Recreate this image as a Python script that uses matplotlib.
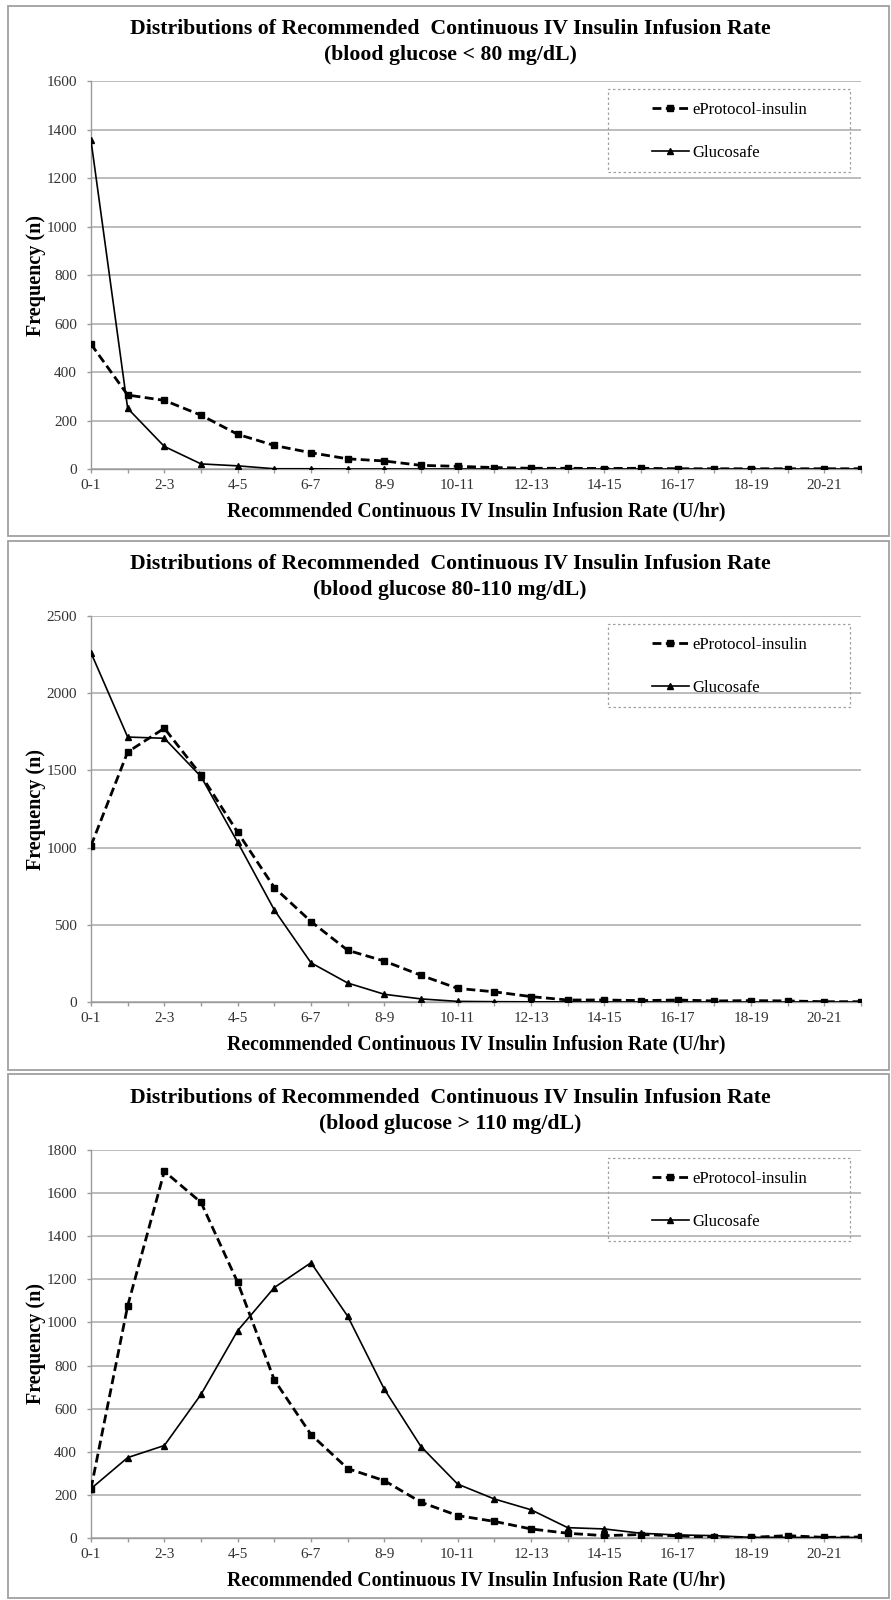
import matplotlib
matplotlib.use('Agg')
import matplotlib.pyplot as plt
from matplotlib.patches import Rectangle
import numpy as np

plt.rcParams['font.family'] = ['Liberation Serif', 'DejaVu Serif']

# rate categories (U/hr), only every other one gets a label
categories = ['%d-%d' % (i, i + 1) for i in range(22)]
tick_labels = [c if i % 2 == 0 else '' for i, c in enumerate(categories)]

subtitles = ['(blood glucose < 80 mg/dL)',
             '(blood glucose 80-110 mg/dL)',
             '(blood glucose > 110 mg/dL)']

eprotocol_low = [515, 305, 283, 222, 143, 97, 67, 42, 33, 15, 11, 6, 3, 3, 2, 3, 1, 1, 1, 1, 1, 1]
glucosafe_low = [1355, 250, 93, 21, 13, 1, 1, 0, 0, 0, 0, 0, 0, 0, 0, 0, 0, 0, 0, 0, 0, 0]

eprotocol_mid = [1012, 1619, 1773, 1470, 1099, 741, 521, 335, 265, 173, 88, 66, 35, 13, 13, 9, 13, 7, 9, 7, 2, 2]
glucosafe_mid = [2262, 1716, 1708, 1460, 1034, 596, 254, 123, 50, 20, 4, 2, 1, 1, 0, 0, 0, 0, 0, 0, 0, 0]

eprotocol_high = [229, 1077, 1701, 1557, 1186, 733, 480, 322, 266, 166, 104, 77, 42, 22, 11, 16, 10, 3, 3, 11, 3, 5]
glucosafe_high = [229, 373, 429, 666, 962, 1162, 1277, 1029, 690, 424, 250, 181, 131, 48, 42, 22, 14, 11, 3, 3, 2, 3]

y_limits = [1600, 2500, 1800]
y_steps = [200, 500, 200]

W, H = 891, 1600

def fx(px):
    return px / W

def fy(py):
    return 1 - py / H

fig = plt.figure(figsize=(W / 100, H / 100), dpi=100)

# panel layout in pixels: (border top, border bottom, plot top, plot bottom, title line 1)
panels = [(6, 536, 81, 469, 29),
          (541, 1070, 616, 1002, 564),
          (1074, 1598, 1150, 1538, 1098)]
plot_left, plot_right = 91, 861

series = [(eprotocol_low, glucosafe_low),
          (eprotocol_mid, glucosafe_mid),
          (eprotocol_high, glucosafe_high)]

x = np.arange(len(categories))

for k, (btop, bbot, ptop, pbot, ttl) in enumerate(panels):
    fig.patches.append(Rectangle((fx(8), fy(bbot)), fx(881), (bbot - btop) / H,
                                 transform=fig.transFigure, fill=False,
                                 ec='#a0a0a0', lw=1.3))

    ax = fig.add_axes([fx(plot_left), fy(pbot), fx(plot_right - plot_left), (pbot - ptop) / H])
    ep, gs = series[k]
    ax.plot(x, ep, color='black', lw=2.0, dashes=(3.2, 1.6), marker='s', ms=4.5,
            label='eProtocol-insulin', zorder=3)
    ax.plot(x, gs, color='black', lw=1.2, marker='^', ms=4.8,
            label='Glucosafe', zorder=4)

    ax.set_xlim(0, len(categories) - 1)
    ax.set_ylim(0, y_limits[k])
    ax.set_yticks(np.arange(0, y_limits[k] + 1, y_steps[k]))
    ax.set_xticks(x)
    ax.set_xticklabels(tick_labels)
    ax.yaxis.grid(True, color='#b0b0b0', lw=1.2)
    ax.set_axisbelow(True)
    for s in ['top', 'right']:
        ax.spines[s].set_visible(False)
    for s in ['left', 'bottom']:
        ax.spines[s].set_color('#9a9a9a')
        ax.spines[s].set_linewidth(1.0)
    ax.tick_params(axis='both', colors='#9a9a9a', labelcolor='#333333',
                   labelsize=11, length=3, width=1.0)
    ax.tick_params(axis='y', pad=7)
    ax.tick_params(axis='x', pad=4)

    fig.text(0.505, fy(ttl), 'Distributions of Recommended  Continuous IV Insulin Infusion Rate',
             ha='center', va='center', fontsize=15.7, fontweight='bold')
    fig.text(0.505, fy(ttl + 26), subtitles[k],
             ha='center', va='center', fontsize=15.7, fontweight='bold')
    fig.text(fx(36), fy((ptop + pbot) / 2), 'Frequency (n)', rotation=90,
             ha='center', va='center', fontsize=14.5, fontweight='bold')
    fig.text(fx(476), fy(pbot + 42), 'Recommended Continuous IV Insulin Infusion Rate (U/hr)',
             ha='center', va='center', fontsize=14.3, fontweight='bold')

    # dashed legend box
    fig.patches.append(Rectangle((fx(608), fy(ptop + 91)), fx(242), 83 / H,
                                 transform=fig.transFigure, fill=False,
                                 ec='#a0a0a0', lw=0.9, ls=(0, (2, 2))))
    ax.legend(loc='center left', bbox_to_anchor=(fx(652), fy(ptop + 50.5)),
              bbox_transform=fig.transFigure, frameon=False, fontsize=12,
              borderpad=0, borderaxespad=0, handlelength=2.2, handletextpad=0.2,
              labelspacing=1.6)

fig.savefig('out.png', dpi=100)
